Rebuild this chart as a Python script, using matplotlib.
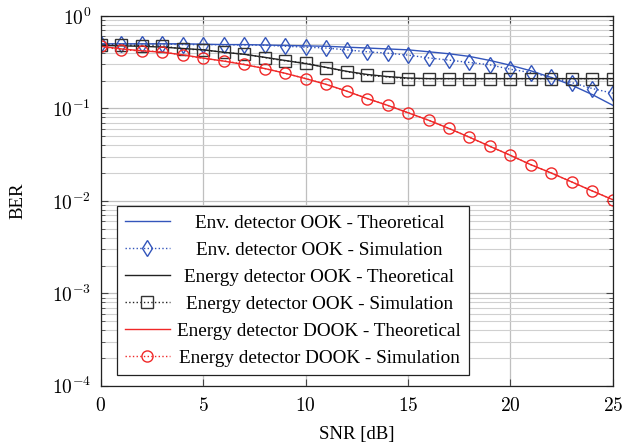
import numpy as np
import matplotlib
matplotlib.use('Agg')
import matplotlib.pyplot as plt
from matplotlib.ticker import FuncFormatter, LogLocator, MultipleLocator

plt.rcParams['font.family'] = ['Liberation Serif', 'DejaVu Serif']
plt.rcParams['mathtext.fontset'] = 'cm'

# SNR axis (dB)
snr = list(range(0, 26))

# Envelope detector OOK
env_theory = [0.50, 0.50, 0.50, 0.50, 0.50, 0.495, 0.49, 0.49, 0.485, 0.48,
              0.475, 0.47, 0.46, 0.45, 0.44, 0.43, 0.41, 0.39, 0.365, 0.33,
              0.293, 0.255, 0.216, 0.178, 0.141, 0.108]
env_sim = [0.497, 0.50, 0.497, 0.497, 0.49, 0.49, 0.488, 0.485, 0.482, 0.47,
           0.46, 0.45, 0.43, 0.41, 0.396, 0.377, 0.352, 0.333, 0.314, 0.296,
           0.265, 0.244, 0.216, 0.19, 0.164, 0.146]

# Energy detector OOK
ed_theory = [0.48, 0.475, 0.47, 0.46, 0.445, 0.43, 0.405, 0.385, 0.357, 0.33,
             0.305, 0.278, 0.252, 0.233, 0.221, 0.213, 0.21, 0.21, 0.21, 0.21,
             0.21, 0.21, 0.21, 0.21, 0.21, 0.21]
ed_sim = [0.484, 0.484, 0.475, 0.475, 0.438, 0.43, 0.403, 0.386, 0.355, 0.327,
          0.309, 0.277, 0.25, 0.228, 0.219, 0.21, 0.21, 0.21, 0.21, 0.21,
          0.21, 0.21, 0.21, 0.21, 0.21, 0.21]

# Energy detector DOOK
dook_theory = [0.47, 0.44, 0.42, 0.405, 0.38, 0.35, 0.325, 0.298, 0.27, 0.24,
               0.21, 0.182, 0.154, 0.128, 0.108, 0.0898, 0.0746, 0.0607, 0.0488, 0.0389,
               0.0311, 0.0246, 0.020, 0.016, 0.0128, 0.0103]
dook_sim = [0.469, 0.43, 0.42, 0.41, 0.377, 0.347, 0.327, 0.30, 0.27, 0.24,
            0.21, 0.182, 0.154, 0.128, 0.108, 0.0898, 0.0746, 0.0607, 0.0488, 0.0389,
            0.0311, 0.0246, 0.020, 0.016, 0.0128, 0.0103]

labels = ['Env. detector OOK - Theoretical',
          'Env. detector OOK - Simulation',
          'Energy detector OOK - Theoretical',
          'Energy detector OOK - Simulation',
          'Energy detector DOOK - Theoretical',
          'Energy detector DOOK - Simulation']

blue = '#3355bb'
red = '#f02828'
dark = '#222222'

fig = plt.figure(figsize=(6.26, 4.43), dpi=100)
ax = fig.add_axes([0.161, 0.129, 0.818, 0.835])

ax.plot(snr, env_theory, '-', color=blue, lw=1.0, label=labels[0])
ax.plot(snr, env_sim, ':', color=blue, lw=1.0, marker='d', ms=8, mfc='none',
        mec=blue, mew=1.0, label=labels[1])
ax.plot(snr, ed_theory, '-', color=dark, lw=1.0, label=labels[2])
ax.plot(snr, ed_sim, ':', color=dark, lw=1.0, marker='s', ms=8, mfc='none',
        mec='#333333', mew=1.0, label=labels[3])
ax.plot(snr, dook_theory, '-', color=red, lw=1.0, label=labels[4])
ax.plot(snr, dook_sim, ':', color=red, lw=1.0, marker='o', ms=8, mfc='none',
        mec=red, mew=1.0, label=labels[5])

ax.set_yscale('log')
ax.set_xlim(0, 25)
ax.set_ylim(1e-4, 1)
ax.xaxis.set_major_locator(MultipleLocator(5))
ax.yaxis.set_major_locator(LogLocator(base=10, numticks=10))
ax.yaxis.set_minor_locator(LogLocator(base=10, subs=np.arange(2, 10), numticks=20))
ax.xaxis.set_major_formatter(FuncFormatter(lambda v, p: r'$%d$' % v))
ax.yaxis.set_major_formatter(FuncFormatter(lambda v, p: r'$10^{%d}$' % round(np.log10(v))))

ax.grid(True, which='major', color='#bfbfbf', lw=0.9)
ax.grid(True, which='minor', axis='y', color='#d0d0d0', lw=0.8)
ax.set_axisbelow(True)
ax.tick_params(which='both', direction='in', top=True, right=True, labelsize=14, color='#444444')
ax.tick_params(which='major', length=5)
ax.tick_params(axis='x', pad=8)
ax.tick_params(axis='y', pad=7)
ax.tick_params(which='minor', length=3)
for s in ax.spines.values():
    s.set_color('#222222')
    s.set_linewidth(0.9)

ax.set_xlabel('SNR [dB]', fontsize=13.5, labelpad=8)
ax.set_ylabel('BER', fontsize=13.5, labelpad=18)

leg = ax.legend(loc='lower left', bbox_to_anchor=(0.031, 0.03), borderaxespad=0,
                prop={'size': 13.8}, frameon=True, fancybox=False, framealpha=1,
                edgecolor='#222222', handlelength=2.35, handletextpad=0.4,
                labelspacing=0.5, borderpad=0.42, markerscale=1.0)
leg.get_frame().set_linewidth(0.9)

# center legend texts like pgfplots does
fig.canvas.draw()
r = fig.canvas.get_renderer()
widths = [t.get_window_extent(r).width for t in leg.get_texts()]
wmax = max(widths)
for t, w in zip(leg.get_texts(), widths):
    t.set_position(((wmax - w) / 2, 0))

fig.savefig('out.png', dpi=100)
